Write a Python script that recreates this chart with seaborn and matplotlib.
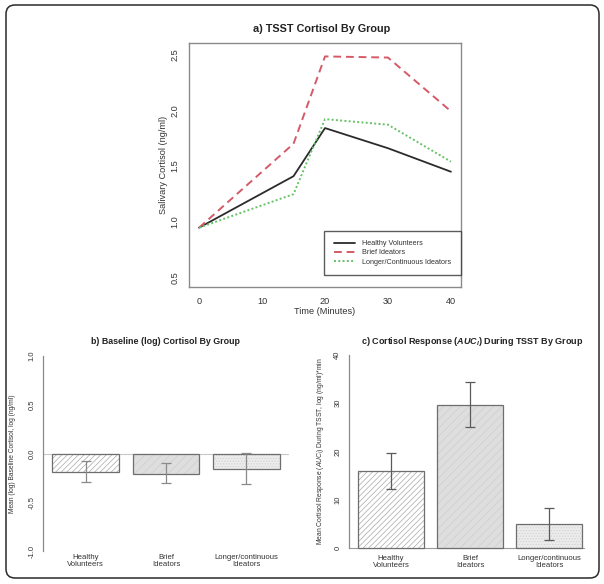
import numpy as np
import pandas as pd
import matplotlib
matplotlib.use("Agg")
import matplotlib.pyplot as plt
import matplotlib.patches as mpatches
import matplotlib.transforms as mtransforms
import matplotlib.colors as mcolors
import seaborn as sns

# ---------------- data ----------------
times = [0, 15, 20, 30, 40]
healthy = [0.95, 1.41, 1.84, 1.66, 1.45]
brief = [0.95, 1.70, 2.48, 2.47, 1.99]
longer = [0.95, 1.25, 1.92, 1.87, 1.54]
series_labels = ["Healthy Volunteers", "Brief Ideators", "Longer/Continuous Ideators"]

groups = ["Healthy\nVolunteers", "Brief\nIdeators", "Longer/continuous\nIdeators"]
baseline_mean = [-0.19, -0.205, -0.155]
baseline_lo = [-0.29, -0.307, -0.317]
baseline_hi = [-0.08, -0.10, 0.01]

auc_mean = [15.9, 29.6, 5.05]
auc_lo = [12.2, 25.0, 1.7]
auc_hi = [19.6, 34.3, 8.4]

y_ticks_a = [0.5, 1.0, 1.5, 2.0, 2.5]
x_ticks_a = [0, 10, 20, 30, 40]
y_ticks_b = [-1.0, -0.5, 0.0, 0.5, 1.0]
y_ticks_c = [0, 10, 20, 30, 40]

# ---------------- style ----------------
sns.set_style("white")
plt.rcParams["font.family"] = ["Liberation Sans", "DejaVu Sans"]
plt.rcParams["mathtext.fontset"] = "custom"
plt.rcParams["mathtext.it"] = "Liberation Sans:italic"
plt.rcParams["mathtext.rm"] = "Liberation Sans"
plt.rcParams["mathtext.bf"] = "Liberation Sans:bold"
plt.rcParams["mathtext.bfit"] = "Liberation Sans:italic:bold"
plt.rcParams["hatch.linewidth"] = 0.5

W, H = 604, 584
fig = plt.figure(figsize=(W / 100, H / 100), dpi=100)
fig.patch.set_facecolor("white")


def pos(l, r, t, b):
    return [l / W, 1 - b / H, (r - l) / W, (b - t) / H]


txt_col = "#333333"
frame_col = "#8a8a8a"

# ---------------- panel a ----------------
ax = fig.add_axes(pos(189, 461, 43, 287))
sns.lineplot(x=times, y=healthy, ax=ax, color="#2b2b2b", lw=1.3,
             label=series_labels[0])
sns.lineplot(x=times, y=brief, ax=ax, color="#d45a68", lw=1.4,
             linestyle=(0, (4, 2.5)), label=series_labels[1])
sns.lineplot(x=times, y=longer, ax=ax, color="#66c266", lw=1.4,
             linestyle=(0, (1, 1.2)), label=series_labels[2])
ax.set_xlim(-1.6, 41.6)
ax.set_ylim(0.42, 2.6)
ax.set_xticks(x_ticks_a)
ax.set_yticks(y_ticks_a)
ax.set_xticklabels([str(t) for t in x_ticks_a])
ax.set_yticklabels([f"{v:.1f}" for v in y_ticks_a])
for s in ax.spines.values():
    s.set_color(frame_col)
    s.set_linewidth(1.0)
ax.tick_params(axis="both", direction="out", length=3.5, width=0.8,
               color=frame_col, labelsize=6.6, labelcolor=txt_col, pad=3.5)
ax.tick_params(axis="y", labelrotation=90)
for lab in ax.get_yticklabels():
    lab.set_va("center")
ax.set_xlabel("Time (Minutes)", fontsize=6.6, color=txt_col, labelpad=1.0)
ax.set_ylabel("Salivary Cortisol (ng/ml)", fontsize=6.6, color=txt_col)
ax.yaxis.set_label_coords(-0.078, 0.5)
leg = ax.legend(loc="lower right", bbox_to_anchor=(1.0, 12 / 244),
                borderaxespad=0, fontsize=5.2, frameon=True, fancybox=False,
                edgecolor="#333333", borderpad=1.3, labelspacing=0.3,
                handlelength=3.0, handletextpad=1.0)
leg.get_frame().set_linewidth(1.0)
for t in leg.get_texts():
    t.set_color(txt_col)

fig.text(322 / W, 1 - 29 / H, "a) TSST Cortisol By Group", ha="center",
         va="center", fontsize=7.8, fontweight="bold", color="#222222")

# ---------------- bar panels helper ----------------
face_cols = ["#ffffff", "#dedede", "#ececec"]
hatches = ["//////", "////", "......"]
hatch_cols = ["#a8a8a8", "#cfcfcf", "#d0d0d0"]


def style_bars(ax):
    for p, hc, h in zip(ax.patches, hatch_cols, hatches):
        p.set_edgecolor("#6e6e6e")
        p.set_linewidth(0.9)
        p.set_hatch(h)
        p._hatch_color = mcolors.to_rgba(hc)


# ---------------- panel b ----------------
axb = fig.add_axes(pos(43, 289, 348, 559))
dfb = pd.DataFrame({"group": groups, "mean": baseline_mean})
sns.barplot(data=dfb, x="group", y="mean", hue="group", palette=face_cols,
            width=1 / 1.2, legend=False, ax=axb, errorbar=None)
style_bars(axb)
axb.axhline(0, color="#c8c8c8", lw=0.8, zorder=0.5)
yerr_b = [np.array(baseline_mean) - np.array(baseline_lo),
          np.array(baseline_hi) - np.array(baseline_mean)]
axb.errorbar(x=np.arange(len(groups)), y=baseline_mean, yerr=yerr_b, fmt="none",
             ecolor="#8a8a8a", elinewidth=0.9, capsize=3.5, capthick=0.9)
axb.set_xlim(-0.53, 2.53)
axb.set_ylim(-1.08, 1.08)
axb.set_yticks(y_ticks_b)
axb.set_yticklabels([f"{v:.1f}" for v in y_ticks_b])
sns.despine(ax=axb, bottom=True)
axb.spines["left"].set_bounds(-1.0, 1.0)
axb.spines["left"].set_color(frame_col)
axb.spines["left"].set_linewidth(0.9)
axb.tick_params(axis="y", direction="out", length=3, width=0.8, color=frame_col,
                labelsize=5.5, labelcolor=txt_col, pad=2.5, labelrotation=90)
for lab in axb.get_yticklabels():
    lab.set_va("center")
axb.tick_params(axis="x", length=0, labelsize=5.6, labelcolor=txt_col, pad=-3.5)
for lab in axb.get_xticklabels():
    lab.set_linespacing(1.0)
axb.set_xlabel("")
axb.set_ylabel("Mean (log) Baseline Cortisol, log (ng/ml)", fontsize=4.8,
               color=txt_col)
axb.yaxis.set_label_coords(-0.108, 0.5)
fig.text(165 / W, 1 - 342 / H, "b) Baseline (log) Cortisol By Group",
         ha="center", va="center", fontsize=6.4, fontweight="bold",
         color="#222222")

# ---------------- panel c ----------------
axc = fig.add_axes(pos(349, 591, 347, 556))
dfc = pd.DataFrame({"group": groups, "auc": auc_mean})
sns.barplot(data=dfc, x="group", y="auc", hue="group", palette=face_cols,
            width=1 / 1.2, legend=False, ax=axc, errorbar=None)
style_bars(axc)
axc.axhline(0, color="#9a9a9a", lw=0.8, zorder=0.5, xmax=0.97)
yerr_c = [np.array(auc_mean) - np.array(auc_lo),
          np.array(auc_hi) - np.array(auc_mean)]
axc.errorbar(x=np.arange(len(groups)), y=auc_mean, yerr=yerr_c, fmt="none",
             ecolor="#5a5a5a", elinewidth=0.9, capsize=3.5, capthick=0.9)
axc.set_xlim(-0.53, 2.53)
axc.set_ylim(-1.6, 41.6)
axc.set_yticks(y_ticks_c)
axc.set_yticklabels([str(v) for v in y_ticks_c])
sns.despine(ax=axc, bottom=True)
axc.spines["left"].set_bounds(0, 40)
axc.spines["left"].set_color(frame_col)
axc.spines["left"].set_linewidth(0.9)
axc.tick_params(axis="y", direction="out", length=3, width=0.8, color=frame_col,
                labelsize=5.5, labelcolor=txt_col, pad=2.5, labelrotation=90)
for lab in axc.get_yticklabels():
    lab.set_va("center")
axc.tick_params(axis="x", length=0, labelsize=5.6, labelcolor=txt_col, pad=-1)
for lab in axc.get_xticklabels():
    lab.set_linespacing(1.0)
axc.set_xlabel("")
axc.set_ylabel(r"Mean Cortisol Response ($\mathit{AUC}_{\mathit{I}}$) During TSST, log (ng/ml)*min",
               fontsize=4.9, color=txt_col)
axc.yaxis.set_label_coords(-0.097, 0.5)
fig.text(472 / W, 1 - 342 / H,
         r"c) Cortisol Response ($\mathbfit{AUC}_{\mathbfit{I}}$) During TSST By Group",
         ha="center", va="center", fontsize=6.5, fontweight="bold",
         color="#222222")

# ---------------- outer rounded frame ----------------
frame = mpatches.FancyBboxPatch((6, H - 578), 593, 573,
                                boxstyle="round,pad=0,rounding_size=9",
                                facecolor="none", edgecolor="#2a2a2a", lw=1.1,
                                transform=mtransforms.IdentityTransform())
fig.add_artist(frame)

fig.savefig("out.png", dpi=100)
